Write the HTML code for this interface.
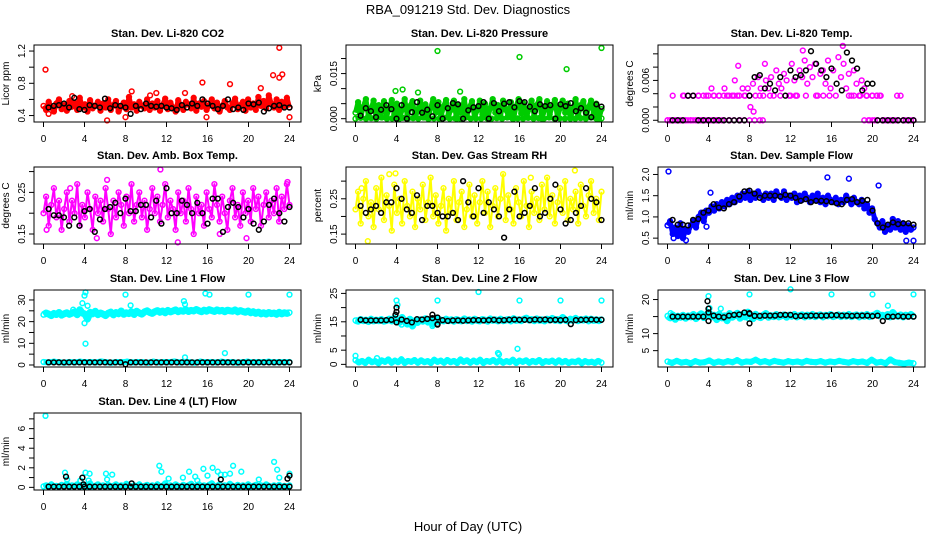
<!DOCTYPE html>
<html><head><meta charset="utf-8"><style>
html,body{margin:0;padding:0;background:#fff;}
svg{display:block;font-family:"Liberation Sans",Arial,sans-serif;}
</style></head><body>
<svg id="chart" width="936" height="540" viewBox="0 0 936 540" xmlns="http://www.w3.org/2000/svg">
<rect width="936" height="540" fill="#fff"/>
<text x="468" y="14" text-anchor="middle" font-size="13">RBA_091219  Std. Dev. Diagnostics</text>
<text x="468" y="531" text-anchor="middle" font-size="13">Hour of Day (UTC)</text>
</svg>
<script>
// ---- shared tick data ----
const xTicks = [0,4,8,12,16,20,24];
const blackHours = [0.5,1,1.5,2,2.5,3,3.5,4,4.5,5,5.5,6,6.5,7,7.5,8,8.5,9,9.5,10,10.5,11,11.5,12,12.5,13,13.5,14,14.5,15,15.5,16,16.5,17,17.5,18,18.5,19,19.5,20,20.5,21,21.5,22,22.5,23,23.5,24];

// ---- P1 CO2 ----
const co2Dense = [0.52,0.47,0.57,0.5,0.45,0.55,0.6,0.48,0.53,0.46,0.58,0.51,0.56,0.47,0.62,0.5,0.54,0.45,0.59,0.49,0.52,0.57,0.46,0.55,0.5,0.6,0.47,0.53,0.58,0.45,0.51,0.56,0.48,0.63,0.5,0.54,0.46,0.57,0.52,0.49,0.6,0.47,0.55,0.5,0.58,0.46,0.53,0.61,0.48,0.56,0.5,0.45,0.59,0.52,0.47,0.57,0.54,0.49,0.62,0.46,0.55,0.51,0.58,0.47,0.53,0.6,0.49,0.56,0.45,0.52,0.58,0.5,0.47,0.55,0.61,0.48,0.53,0.57,0.46,0.6,0.5,0.55,0.47,0.63,0.52,0.58,0.49,0.65,0.54,0.5,0.6,0.47,0.57,0.52,0.62,0.5];
const co2OutH = [0.2,0.5,6.2,8,8.6,15.5,15.9,18.2,21.2,22.4,23,23.3,23,24,11,2.8,13.8,10.4];
const co2OutV = [0.97,0.42,0.34,0.38,0.7,0.81,0.38,0.79,0.74,0.9,0.87,0.91,1.24,0.38,0.68,0.64,0.68,0.65];
const co2Black = [0.5,0.52,0.53,0.55,0.5,0.62,0.48,0.47,0.53,0.52,0.5,0.61,0.49,0.53,0.52,0.5,0.42,0.52,0.48,0.55,0.52,0.51,0.52,0.5,0.49,0.47,0.53,0.5,0.55,0.52,0.6,0.55,0.52,0.48,0.52,0.6,0.48,0.5,0.47,0.55,0.54,0.56,0.45,0.49,0.52,0.53,0.5,0.5];

// ---- P2 Pressure ----
const presDense = [0.002,0.0055,0.0005,0.004,0.0065,0.001,0.003,0.006,0,0.0045,0.002,0.0058,0.0008,0.0035,0.0062,0.0015,0.005,0,0.003,0.0065,0.001,0.0042,0.0058,0.0005,0.0025,0.006,0.0012,0.0048,0,0.0035,0.0065,0.002,0.0055,0.0008,0.004,0.0062,0.0015,0.003,0.006,0,0.0045,0.002,0.0065,0.001,0.0038,0.0058,0.0005,0.0028,0.006,0.0015,0.005,0,0.0035,0.0065,0.002,0.0045,0.0008,0.006,0.003,0.0012,0.0055,0,0.004,0.0065,0.0018,0.005,0.0005,0.0032,0.006,0.001,0.0045,0.0065,0,0.0028,0.0058,0.0015,0.004,0.0062,0.0005,0.0035,0.006,0.002,0.005,0,0.003,0.0065,0.0012,0.0045,0.0058,0.0005,0.0038,0.006,0.0018,0.005,0,0.0032];
const presLow = [0,0.0003,0,0.0002,0,0.0004,0,0.0001,0,0.0003,0,0.0002,0,0.0004,0,0.0001,0,0.0003,0,0.0002,0,0.0004,0,0.0001,0,0.0003,0,0.0002,0,0.0004,0,0.0001,0,0.0003,0,0.0002,0,0.0004,0,0.0001,0,0.0003,0,0.0002,0,0.0004,0,0.0001];
const presOutH = [8,16,20.6,24,3.9,4.6,6.1,10.2];
const presOutV = [0.0225,0.0205,0.0165,0.0235,0.0092,0.0097,0.0087,0.009];
const presBlack = [0.001,0.0035,0.0025,0.0005,0.003,0.0045,0.0032,0,0.0045,0,0.0022,0.0055,0.002,0.003,0.0008,0.0045,0,0.0035,0.0052,0.0048,0,0.0028,0.0038,0.0042,0.0055,0,0.0052,0.0025,0.005,0.0055,0.0038,0.0058,0.0055,0.004,0.0025,0.0048,0.0042,0.0045,0,0.0048,0.0042,0.0052,0.0025,0.0035,0.002,0.0005,0.0048,0.004];

// ---- P3 Li-820 Temp ----
const tempDense = [0,0,0.0037,0,0,0,0.0037,0, 0.0037,0,0.0037,0,0.0037,0,0,0.0037, 0,0.0048,0.0037,0,0.0037,0,0.0048,0.0037, 0,0.0037,0.006,0.0037,0,0.0048,0.0037,0.0048, 0.002,0.0055,0.0037,0.0065,0.0048,0.0037,0.006,0.0048, 0.0065,0.0037,0.0075,0.0055,0.0048,0.007,0.006,0.0037, 0.0085,0.006,0.0037,0.0075,0.0065,0.009,0.0055,0.008, 0.0065,0.0085,0.0037,0.007,0.0075,0.0055,0.009,0.0048, 0.0075,0.0037,0.0095,0.0065,0.0085,0.0048,0.007,0.0037, 0.0075,0.0055,0.0037,0.006,0.0048,0.0037,0,0.0037, 0,0.0037,0.0037,0,0,0,0,0, 0,0,0.0037,0,0,0,0,0];
const tempZero = [0,0,0,0,0,0,0,0,0,0,0,0,0,0,0,0,0,0,0,0,0,0,0,0,0,0,0,0,0,0,0,0,0,0,0,0,0,0,0,0];
const tempZeroH = [0,0.25,0.5,0.75,1,1.25,1.5,1.75,2,2.25,2.5,2.75,3,3.25,3.5,3.75,4,4.25,4.5,4.75,5,5.5,6,6.5,7,7.5,8,8.5,9,9.3,19.2,19.6,20,20.5,21,21.5,22,22.5,23,24];
const tempMid = [0.0037,0.0037,0.0037,0.0037,0.0037,0.0037,0.0037,0.0037,0.0037,0.0037,0.0037,0.0037,0.0037,0.0037,0.0037,0.0037,0.0037,0.0037,0.0037,0.0037,0.0037,0.0037,0.0037,0.0037,0.0037,0.0037,0.0037,0.0037,0.0037,0.0037];
const tempMidH = [1.6,2,2.5,3,3.5,4,4.5,5,5.5,6,6.5,7,7.5,8,9,10,11,12,12.5,13.5,14.5,15.2,15.8,17.7,18.2,18.8,19.4,20,20.4,20.8];
const tempOutH = [6.9,8.4,22.4,17.1,13.2,9.5];
const tempOutV = [0.0082,0.0013,0.0037,0.0112,0.0105,0.0085];
const tempBlack = [0,0,0,0.0037,0.0037,0,0,0,0,0,0,0,0,0,0,0.0037,0.0065,0.0068,0.0048,0.0055,0.0045,0.0065,0.0037,0.0075,0.0065,0.0068,0.0075,0.0104,0.0085,0.0075,0.0065,0.0078,0.0055,0.0045,0.0102,0.009,0.0078,0.0045,0.0055,0.0055,0,0,0,0,0,0,0,0];

// ---- P4 Amb Box Temp ----
const ambDense = [0.2,0.24,0.17,0.22,0.26,0.19,0.23,0.16,0.21,0.25,0.18,0.23,0.2,0.27,0.17,0.22,0.19,0.25,0.21,0.16,0.24,0.2,0.23,0.18,0.26,0.21,0.15,0.23,0.19,0.25,0.22,0.17,0.24,0.2,0.27,0.18,0.22,0.25,0.19,0.23,0.16,0.21,0.26,0.2,0.24,0.18,0.22,0.27,0.19,0.23,0.21,0.16,0.25,0.2,0.23,0.18,0.26,0.21,0.15,0.24,0.2,0.22,0.17,0.25,0.21,0.19,0.27,0.22,0.18,0.24,0.2,0.16,0.23,0.26,0.19,0.22,0.17,0.25,0.2,0.23,0.18,0.26,0.21,0.24,0.17,0.22,0.25,0.19,0.23,0.2,0.26,0.18,0.24,0.21,0.27,0.22];
const ambOutH = [11.4,6.2,5.2,13.1,17.2,19.8,23.8,0.3,2.6];
const ambOutV = [0.305,0.28,0.14,0.13,0.15,0.14,0.275,0.16,0.26];
const ambBlack = [0.21,0.195,0.195,0.19,0.17,0.19,0.17,0.205,0.21,0.155,0.185,0.21,0.215,0.225,0.2,0.235,0.205,0.205,0.22,0.22,0.19,0.23,0.175,0.26,0.2,0.2,0.23,0.22,0.2,0.225,0.2,0.175,0.235,0.235,0.155,0.215,0.225,0.215,0.19,0.21,0.175,0.16,0.18,0.22,0.235,0.2,0.18,0.215];

// ---- P5 Gas Stream RH ----
const rhDense = [0.22,0.27,0.18,0.25,0.3,0.2,0.24,0.17,0.28,0.22,0.31,0.19,0.26,0.23,0.16,0.29,0.21,0.25,0.18,0.3,0.23,0.2,0.27,0.17,0.25,0.22,0.29,0.19,0.24,0.31,0.2,0.26,0.18,0.23,0.28,0.16,0.25,0.21,0.3,0.19,0.24,0.27,0.17,0.22,0.29,0.2,0.26,0.18,0.24,0.3,0.21,0.27,0.17,0.23,0.28,0.2,0.25,0.32,0.19,0.26,0.22,0.18,0.28,0.24,0.2,0.3,0.23,0.17,0.27,0.21,0.25,0.19,0.29,0.22,0.31,0.2,0.26,0.18,0.24,0.28,0.21,0.3,0.19,0.25,0.22,0.27,0.18,0.29,0.23,0.2,0.26,0.3,0.21,0.25,0.19,0.27];
const rhOutH = [1.2,3.3,3.9,21.4,17.1,0.6];
const rhOutV = [0.13,0.32,0.322,0.33,0.31,0.28];
const rhBlack = [0.23,0.21,0.22,0.23,0.21,0.24,0.24,0.28,0.25,0.22,0.21,0.26,0.19,0.23,0.23,0.21,0.2,0.2,0.21,0.19,0.3,0.24,0.2,0.28,0.21,0.24,0.22,0.2,0.14,0.22,0.27,0.2,0.21,0.23,0.28,0.2,0.21,0.25,0.29,0.22,0.18,0.19,0.21,0.23,0.28,0.25,0.24,0.19];

// ---- P6 Sample Flow ----
const sfDense = [0.8,0.9,0.6,0.75,0.55,0.85,0.5,0.7, 0.65,0.8,0.9,0.75,1.0,1.1,0.9,1.15, 1.1,1.25,1.15,1.3,1.2,1.35,1.25,1.4, 1.3,1.45,1.35,1.5,1.4,1.55,1.45,1.6, 1.4,1.55,1.45,1.6,1.5,1.4,1.55,1.45, 1.55,1.4,1.6,1.5,1.45,1.6,1.4,1.5, 1.45,1.55,1.35,1.5,1.4,1.55,1.45,1.35, 1.5,1.4,1.55,1.35,1.45,1.3,1.5,1.4, 1.35,1.45,1.3,1.4,1.35,1.5,1.4,1.3, 1.45,1.35,1.3,1.4,1.2,1.3,1.1,1.2, 0.95,0.85,0.75,0.9,0.65,0.8,0.7,0.95, 0.75,0.9,0.7,0.85,0.65,0.8,0.7,0.75];
const sfOutH = [0.1,15.6,17.7,20.6,4.2,23.3,24,1.8,3.8,0.6];
const sfOutV = [2.07,1.93,1.9,1.74,1.57,0.44,0.44,0.45,0.77,0.5];
const sfBlack = [0.93,0.82,0.82,0.8,0.93,0.95,1.1,1.15,1.3,1.22,1.2,1.3,1.35,1.48,1.6,1.62,1.55,1.45,1.5,1.5,1.5,1.48,1.52,1.5,1.45,1.38,1.42,1.35,1.38,1.38,1.37,1.35,1.32,1.3,1.4,1.42,1.35,1.38,1.4,1.15,0.85,0.75,0.82,0.87,0.83,0.85,0.85,0.82];

// ---- P7 Line 1 ----
const l1Dense = [23.2,24,23.5,22.8,23.8,23.3,24.2,23,23.6,24.1,23.4,23.9,24.5,23.2,25.5,24,23.5,21.2,24.3,23.6,24.8,23.2,24,23.5,22.8,23.9,24.4,23.1,24.2,23.6,24.9,23.4,24.1,23.7,24.6,23.3,24.8,24,23.5,24.5,25,24.2,23.8,24.6,25.1,24.3,24.9,24.1,25.2,24.5,24.9,25.4,24.6,25.1,24.8,25.5,24.7,25.2,24.9,25.6,25,24.6,25.3,24.8,25.5,25.1,24.7,25.4,24.9,25.2,24.6,25.3,25,24.8,25.4,24.5,25.1,24.7,24.3,24.9,24.1,24.6,23.8,24.4,23.6,24.1,23.5,24.2,23.7,24,23.4,24.3,23.6,24.1,23.8,24.2];
const l1Low = [1.4,1.2,1.5,1.3,1.1,1.4,1.2,1.5,1.3,1.4,1.2,1.6,1.3,1.1,1.4,1.3,1.5,1.2,1.4,1.3,1.1,1.5,1.2,1.4,1.3,1.6,1.2,1.4,1.3,1.1,1.5,1.3,1.4,1.2,1.5,1.3,1.4,1.1,1.3,1.5,1.2,1.4,1.3,1.5,1.2,1.4,1.3,1.4];
const l1OutH = [3.8,4,4.1,4,4.1,4.3,8,8.5,13.7,13.8,15.8,16.2,20,24,13.8,17.7,2.9];
const l1OutV = [28.5,32,33.5,19.3,9.8,27.3,32.5,27.5,29.5,28,33,32.5,32.5,32.5,3.5,5.5,25.5];
const l1Black = [1.2,1.2,1.2,1.2,1.2,1.2,1.2,1.2,1.2,1.2,1.2,1.2,1.2,1.2,1.2,0.3,1.2,1.2,1.2,1.2,1.2,1.2,1.2,1.2,1.2,1.2,1.2,1.2,1.2,1.2,1.2,1.2,1.2,1.2,1.2,1.2,1.2,1.2,1.2,1.2,1.2,1.2,1.2,1.2,1.2,1.2,1.2,1.2];

// ---- P8 Line 2 ----
const l2Dense = [15.5,15.2,15.8,15.4,15.6,15.1,15.9,15.3,15.6,15.4,15.8,15.2,15.5,15.9,15.3,16.2,15.6,14.8,16.5,15.1,14.2,15.9,13.5,15.4,14.8,15.7,15.2,16.1,14.9,15.8,14.2,16.3,15.1,15.6,15.3,15.9,15.4,15.7,15.2,15.8,15.5,15.3,16,15.4,15.7,15.2,15.9,15.5,15.3,15.8,15.6,15.2,16,15.5,15.7,15.3,15.9,15.4,15.6,15.8,15.3,16.1,15.5,15.7,15.4,15.9,16.3,15.6,15.8,15.4,16,15.5,15.7,15.3,15.9,15.6,16.2,15.5,15.8,15.4,16.5,15.6,15.3,15.9,15.5,16.2,15.4,15.8,15.6,16,15.3,15.9,15.5,15.7,15.4,15.8];
const l2Low = [1.5,0.7,1.2,0.5,1.6,0.8,1.1,0.4,1.4,0.9,1.7,0.6,1.3,0.8,1.8,0.5,1.2,0.9,1.5,0.6,1.4,0.8,1.1,0.5,1.6,0.9,1.3,0.6,1.5,0.8,1.2,0.5,1.7,0.9,1.4,0.6,1.3,0.8,1.6,0.5,1.2,0.9,1.5,0.7,1.4,0.6,1.1,0.8,1.6,0.5,1.3,0.9,1.4,0.6,1.2,0.8,1.5,0.5,1.1,0.9,1.3,0.6,1.4,0.7,1.2,0.5,1,0.8,1.3,0.4,1.1,0.7,0.9,0.5,1.2,0.6];
const l2OutH = [0,4,4.1,8,12,16,20,24,13.9,15.8,14,4.5,7.5,2.1];
const l2OutV = [3,22.5,21,22.5,25.5,22.5,22.5,22.5,4,5.5,3.5,14,13.5,2.2];
const l2Black = [15.7,15.5,15.5,15.5,15.5,15.6,15.7,20,15.8,15.3,14.8,15.9,15.8,16,16.3,14.2,15.6,15.3,15.5,15.5,15.4,15.5,15.6,15.6,15.5,15.6,15.7,15.5,15.6,15.7,15.8,15.7,15.7,15.6,15.8,15.7,15.8,15.6,15.7,15.6,15.7,14.2,15.6,15.7,15.7,15.8,15.7,15.7];
const l2BlkOutH = [3.9,4,4,7.5,8,8];
const l2BlkOutV = [17.5,18.5,14.8,17.5,16.5,14];

// ---- P9 Line 3 ----
const l3Dense = [15.2,14.6,15.5,14.2,15.1,14.8,15.4,14.5,15.2,14.9,15.6,14.4,15.3,15.8,14.7,15.5,16.2,14.9,15.4,14.1,15.7,14.6,15.2,13.8,15.9,14.8,15.3,16,14.5,15.6,14.9,16.3,15.1,14.4,15.7,15,14.7,15.4,15.9,14.8,15.3,15,15.6,14.9,15.2,15.5,14.8,15.4,15.1,15.6,14.9,15.3,15.5,14.9,15.4,15.1,15.6,15,15.3,15.5,14.9,15.4,15.2,15.6,15,15.3,15.5,15,15.4,15.1,15.6,15,15.3,15.5,14.9,15.4,15.1,15.6,15,15.3,15.5,16,15.2,15.4,15,15.6,14.9,16.2,15.3,15.1,15.5,14.9,15.4,15.1,15.6,15];
const l3Low = [1.8,1.4,2,1.5,1.7,1.3,1.9,1.5,1.6,2.1,1.4,1.8,1.5,1.9,1.6,2.2,1.5,1.8,1.7,2.3,1.6,1.9,1.5,2,1.7,1.5,1.9,1.6,1.8,1.5,2,1.7,1.6,1.9,1.5,1.8,1.6,2,1.7,1.5,1.9,1.6,1.8,1.4,2.3,1.5,1.7,1.3,2.4,1.6,1.4,1.2,1.5,1.3];
const l3OutH = [4,4.1,8,12,16,20,24,5.2,7.9,21.5,0.3];
const l3OutV = [21,17.5,21.5,23,21.5,21.5,21.5,17.3,14.5,18.2,16];
const l3Black = [15,15,15,15,15,15,15,16.2,15.3,15,14.8,15.3,15.5,15.6,16.2,15.8,15.2,15.2,15.3,15.3,15.3,15.5,15.5,15.5,15.1,15.2,15.2,15.3,15.3,15.3,15.3,15.4,15.4,15.3,15.3,15.2,15.3,15.3,15.3,15.1,15.3,13.7,15,15,15.1,15,15,15];
const l3BlkOutH = [3.9,4,4,8,8];
const l3BlkOutV = [19.5,17.3,13.7,13,16];

// ---- P10 Line 4 ----
const l4Dense = [0.1,0.2,0.05,0.3,0.1,0.15,0.05,0.25,0.1,0.35,0.05,0.2,0.1,0.3,0.15,0.05,0.2,0.1,0.4,0.05,0.15,0.3,0.1,0.2,0.05,0.25,0.1,0.15,0.3,0.05,0.2,0.1,0.35,0.15,0.05,0.2,0.1,0.3,0.05,0.15,0.25,0.1,0.2,0.05,0.3,0.1,0.15,0.4,0.05,0.2,0.1,0.3,0.15,0.05,0.25,0.1,0.2,0.35,0.05,0.15,0.3,0.1,0.2,0.05,0.25,0.4,0.1,0.15,0.3,0.05,0.2,0.1,0.35,0.15,0.05,0.25,0.1,0.2,0.05,0.3,0.1,0.15,0.25,0.05,0.2,0.1,0.3,0.15,0.05,0.2,0.1,0.25,0.05,0.15,0.1,0.2];
const l4OutH = [0.2,2.1,2.3,3.6,4.1,4.5,4.4,6.1,6.7,6.2,11.3,11.5,12.2,13.6,14.2,15,15.6,16,16.5,17,17.7,18.2,18.5,19.3,21,22.5,22.8,23,24,14.8,17.3];
const l4OutV = [7.3,1.5,0.8,0.7,1.5,1.4,0.7,1.4,1.3,0.8,2.2,1.6,0.9,1.0,1.6,0.7,1.9,1.2,2.0,1.6,1.3,1.4,2.2,1.6,0.8,2.6,1.8,1.0,1.4,1.1,1.3];
const l4Black = [0.08,0.08,0.08,0.08,0.08,0.08,0.08,0.08,0.08,0.08,0.08,0.08,0.08,0.08,0.08,0.08,0.08,0.08,0.08,0.08,0.08,0.08,0.08,0.08,0.08,0.08,0.08,0.08,0.08,0.08,0.08,0.08,0.08,0.08,0.08,0.08,0.08,0.08,0.08,0.08,0.08,0.08,0.08,0.08,0.08,0.08,0.08,0.08];
const l4BlkOutH = [2.2,3.8,3.9,8.6,24,23.8,17.3];
const l4BlkOutV = [1.1,1.0,0.3,0.4,1.2,0.9,0.8];

const NS = "http://www.w3.org/2000/svg";
const svg = document.getElementById('chart');
const colLeft = [34, 346, 658], rowTop = [45, 167, 290, 413];
const BW = 267, BH = 77, X0 = 9.5, XSPAN = 246;

function mk(tag, attrs, parent) {
  const e = document.createElementNS(NS, tag);
  for (const k in attrs) e.setAttribute(k, attrs[k]);
  (parent || svg).appendChild(e);
  return e;
}
function gridHours(arr) { return arr.map((_, i) => i * 24 / (arr.length - 1)); }

// series entries: [hours|null, values, "c"|"k", bandWidth]
const panels = [
  {title:"Stan. Dev. Li-820 CO2", ylab:"Licor ppm", ymin:0.32, ymax:1.275, ticks:[0.4,0.6,0.8,1.0,1.2], labels:[[0.4,"0.4"],[0.8,"0.8"],[1.2,"1.2"]], col:"#ff0000",
   series:[[null,co2Dense,"c",5],[co2OutH,co2OutV,"c"],[blackHours,co2Black,"k"]]},
  {title:"Stan. Dev. Li-820 Pressure", ylab:"kPa", ymin:-0.0011, ymax:0.0245, ticks:[0,0.005,0.01,0.015,0.02], labels:[[0,"0.000"],[0.015,"0.015"]], col:"#00cc00",
   series:[[null,presDense,"c",5],[null,presLow,"c",4],[presOutH,presOutV,"c"],[blackHours,presBlack,"k"]]},
  {title:"Stan. Dev. Li-820 Temp.", ylab:"degrees C", ymin:-0.00026, ymax:0.01133, ticks:[0,0.002,0.004,0.006,0.008,0.01], labels:[[0,"0.000"],[0.006,"0.006"]], col:"#ff00ff",
   series:[[null,tempDense,"c"],[tempZeroH,tempZero,"c"],[tempMidH,tempMid,"c"],[tempOutH,tempOutV,"c"],[blackHours,tempBlack,"k"]]},
  {title:"Stan. Dev. Amb. Box Temp.", ylab:"degrees C", ymin:0.126, ymax:0.311, ticks:[0.15,0.2,0.25,0.3], labels:[[0.15,"0.15"],[0.25,"0.25"]], col:"#ff00ff",
   series:[[null,ambDense,"c",2],[ambOutH,ambOutV,"c"],[blackHours,ambBlack,"k"]]},
  {title:"Stan. Dev. Gas Stream RH", ylab:"percent", ymin:0.122, ymax:0.34, ticks:[0.15,0.2,0.25,0.3], labels:[[0.15,"0.15"],[0.25,"0.25"]], col:"#ffff00",
   series:[[null,rhDense,"c",2],[rhOutH,rhOutV,"c"],[blackHours,rhBlack,"k"]]},
  {title:"Stan. Dev. Sample Flow", ylab:"ml/min", ymin:0.362, ymax:2.176, ticks:[0.5,1,1.5,2], labels:[[0.5,"0.5"],[1,"1.0"],[1.5,"1.5"],[2,"2.0"]], col:"#0000ff",
   series:[[null,sfDense,"c",5],[sfOutH,sfOutV,"c"],[blackHours,sfBlack,"k"]]},
  {title:"Stan. Dev. Line 1 Flow", ylab:"ml/min", ymin:-0.93, ymax:34.6, ticks:[0,5,10,15,20,25,30], labels:[[0,"0"],[10,"10"],[20,"20"],[30,"30"]], col:"#00ffff",
   series:[[null,l1Dense,"c",7],[null,l1Low,"c",6],[l1OutH,l1OutV,"c"],[blackHours,l1Black,"k"]]},
  {title:"Stan. Dev. Line 2 Flow", ylab:"ml/min", ymin:-0.93, ymax:26.2, ticks:[0,5,10,15,20,25], labels:[[0,"0"],[5,"5"],[15,"15"],[25,"25"]], col:"#00ffff",
   series:[[null,l2Dense,"c",7],[null,l2Low,"c",6],[l2OutH,l2OutV,"c"],[blackHours,l2Black,"k"],[l2BlkOutH,l2BlkOutV,"k"]]},
  {title:"Stan. Dev. Line 3 Flow", ylab:"ml/min", ymin:0.2, ymax:22.8, ticks:[5,10,15,20], labels:[[5,"5"],[10,"10"],[20,"20"]], col:"#00ffff",
   series:[[null,l3Dense,"c",7],[null,l3Low,"c",6],[l3OutH,l3OutV,"c"],[blackHours,l3Black,"k"],[l3BlkOutH,l3BlkOutV,"k"]]},
  {title:"Stan. Dev. Line 4 (LT) Flow", ylab:"ml/min", ymin:-0.27, ymax:7.6, ticks:[0,1,2,3,4,5,6,7], labels:[[0,"0"],[2,"2"],[4,"4"],[6,"6"]], col:"#00ffff",
   series:[[null,l4Dense,"c",6],[l4OutH,l4OutV,"c"],[blackHours,l4Black,"k"],[l4BlkOutH,l4BlkOutV,"k"]]}
];

panels.forEach((p, idx) => {
  const L = colLeft[idx % 3], T = rowTop[Math.floor(idx / 3)];
  const xs = h => L + X0 + h / 24 * XSPAN;
  const ys = v => T + BH - (v - p.ymin) / (p.ymax - p.ymin) * BH;
  const g = mk('g', {});
  
  
  const t = mk('text', {x: L + BW / 2, y: T - 8, 'text-anchor': 'middle', 'font-size': 11, 'font-weight': 'bold'}, g);
  t.textContent = p.title;
  
  
  const yl = mk('text', {x: 0, y: 0, 'text-anchor': 'middle', 'font-size': 10, transform: `translate(${L - 25},${T + BH / 2}) rotate(-90)`}, g);
  yl.textContent = p.ylab;
  
  
  const pts = mk('g', {fill: 'none', 'stroke-width': 1.5}, g);
  
  
  p.series.forEach(s => {
    const hrs = s[0] || gridHours(s[1]);
    const color = s[2] === 'k' ? '#000' : p.col;
    if (s[3]) {
      const d = s[1].map((v, i) => xs(hrs[i]).toFixed(1) + ',' + ys(v).toFixed(1)).join(' ');
      const pl = mk('polyline', {points: d, stroke: color, 'stroke-width': s[3], 'stroke-linejoin': 'round', fill: 'none'}, pts);
      
      
    }
    s[1].forEach((v, i) => {
      const c = mk('circle', {cx: xs(hrs[i]).toFixed(1), cy: ys(v).toFixed(1), r: 2.4, stroke: color}, pts);
      
      
    });
  });
  const box = mk('rect', {x: L, y: T, width: BW, height: BH, fill: 'none', stroke: '#000', 'stroke-width': 1}, g);
  
  
  const xa = mk('g', {}, g);
  
  
  mk('line', {x1: xs(0), x2: xs(24), y1: T + BH, y2: T + BH, stroke: '#000'}, xa);
  xTicks.forEach(h => {
    mk('line', {x1: xs(h), x2: xs(h), y1: T + BH, y2: T + BH + 5, stroke: '#000'}, xa);
    const tl = mk('text', {x: xs(h), y: T + BH + 20, 'text-anchor': 'middle', 'font-size': 10}, xa);
    tl.textContent = h;
    
    
  });
  const ya = mk('g', {}, g);
  
  
  p.ticks.forEach(v => {
    mk('line', {x1: L - 5, x2: L, y1: ys(v), y2: ys(v), stroke: '#000'}, ya);
  });
  p.labels.forEach(lb => {
    const tl = mk('text', {x: 0, y: 0, 'text-anchor': 'middle', 'font-size': 10, transform: `translate(${L - 9},${ys(lb[0])}) rotate(-90)`}, ya);
    tl.textContent = lb[1];
    
    
  });
});
</script>
</body></html>
